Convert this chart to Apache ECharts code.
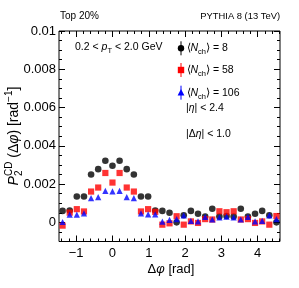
<!DOCTYPE html>
<html><head><meta charset="utf-8">
<script src="https://cdn.jsdelivr.net/npm/echarts@6/dist/echarts.min.js"></script>
<style>html,body{margin:0;padding:0;background:#fff}#c{width:299px;height:288px}</style>
</head><body><div id="c"></div>
<script>
// ---- data ----
const dphi = [-1.374,-1.178,-0.982,-0.785,-0.589,-0.393,-0.196,0,0.196,0.393,0.589,0.785,0.982,1.178,1.374,1.571,1.767,1.963,2.160,2.356,2.553,2.749,2.945,3.142,3.338,3.534,3.731,3.927,4.123,4.320,4.516];
const nch8 = [0.00060,0.00062,0.00135,0.00135,0.00250,0.00278,0.00322,0.00296,0.00322,0.00278,0.00250,0.00135,0.00135,0.00062,0.00060,0.00050,0.00000,0.00037,0.00060,0.00045,0.00030,0.00071,0.00030,0.00033,0.00030,0.00071,0.00030,0.00045,0.00060,0.00037,0.00000];
const nch58 = [-0.00017,0.00051,0.00069,0.00057,0.00161,0.00182,0.00258,0.00208,0.00258,0.00182,0.00161,0.00057,0.00069,0.00055,-0.00012,-0.00005,0.00032,-0.00012,0.00005,-0.00003,0.00017,0.00015,0.00058,0.00053,0.00058,0.00015,0.00017,-0.00003,0.00005,-0.00012,0.00033];
const nch106 = [0.00002,0.00040,0.00040,0.00047,0.00127,0.00132,0.00165,0.00162,0.00165,0.00132,0.00127,0.00047,0.00042,0.00042,0.00004,0.00013,0.00017,0.00037,0.00008,0.00005,0.00029,0.00015,0.00026,0.00030,0.00026,0.00015,0.00029,0.00005,0.00008,0.00037,0.00017];
const legendNch = ['8','58','106'];
const xTickValues = [-1,0,1,2,3,4];
const xTickLabels = ['\u22121','0','1','2','3','4'];
const yTickValues = [0,0.002,0.004,0.006,0.008,0.01];
const yTickLabels = ['0','0.002','0.004','0.006','0.008','0.01'];
const xMin = -1.4726, xMax = 4.6142, yMin = -0.001, yMax = 0.01;

// ---- helpers ----
const FF = '"Liberation Sans", Arial, sans-serif';
const mctx = document.createElement('canvas').getContext('2d');
function tw(t, s, it){ mctx.font = (it?'italic ':'') + s + 'px ' + FF; return mctx.measureText(t).width; }
function run(pieces, x0, base){
  let x = x0; const els = [];
  pieces.forEach(p => {
    els.push({type:'text', x: x, y: base + (p.dy||0) - 0.35*p.s,
      style:{text:p.t, fontSize:p.s, fontStyle:p.i?'italic':'normal', fontFamily:FF, fill:'#000',
        align:'left', verticalAlign:'middle', textAlign:'left', textVerticalAlign:'middle'}});
    if(!p.na) x += tw(p.t, p.s, p.i);
  });
  return {els, width: x - x0};
}
function runWidth(pieces){ let w=0; pieces.forEach(p=>{ if(!p.na) w+=tw(p.t,p.s,p.i); }); return w; }

const xMinor = []; for (let v = -1.4; v < xMax; v += 0.2) xMinor.push(Math.round(v*10)/10);
const yMinor = []; for (let v = -0.001; v <= yMax + 1e-9; v += 0.0005) yMinor.push(Math.round(v*1e5)/1e5);

function xAx(pos, ticks, len, labels){
  return {type:'value', position:pos, min:xMin, max:xMax, gridIndex:0,
    axisLine:{show:false, onZero:false}, splitLine:{show:false},
    axisTick:{show:true, inside:true, length:len, customValues:ticks, lineStyle:{color:'#000', width:1}},
    axisLabel: labels ? {show:true, customValues:xTickValues, margin:5, color:'#000', fontSize:13, fontFamily:FF,
      formatter: v => { const i = xTickValues.findIndex(t => Math.abs(t-v)<1e-6); return i>=0 ? xTickLabels[i] : ''; }} : {show:false}};
}
function yAx(pos, ticks, len, labels){
  return {type:'value', position:pos, min:yMin, max:yMax, gridIndex:0,
    axisLine:{show:false, onZero:false}, splitLine:{show:false},
    axisTick:{show:true, inside:true, length:len, customValues:ticks, lineStyle:{color:'#000', width:1}},
    axisLabel: labels ? {show:true, customValues:yTickValues, margin:3, color:'#000', fontSize:13, fontFamily:FF,
      formatter: v => { const i = yTickValues.findIndex(t => Math.abs(t-v)<1e-9); return i>=0 ? yTickLabels[i] : ''; }} : {show:false}};
}

function pts(arr){ return dphi.map((x,i)=>[x, arr[i]]); }

// ---- graphics (texts, legend, axis titles) ----
const g = [];
const push = r => r.els.forEach(e => g.push(e));
push(run([{t:'Top 20%', s:10}], 60, 19.5));
{ const p=[{t:'PYTHIA 8 (13 TeV)', s:9.4}]; push(run(p, 280 - runWidth(p), 19.5)); }
push(run([{t:'0.2 < ', s:10.5},{t:'p', s:10.5, i:true},{t:'T', s:7.5, dy:3},{t:' < 2.0 GeV', s:10.5}], 75, 51));
const legRows = [{y:48.3, c:'#000', sym:'circle'},{y:70,c:'#ff0000',sym:'rect'},{y:92.7,c:'#0000ff',sym:'triangle'}];
legRows.forEach((r,k) => {
  g.push({type:'line', shape:{x1:181, y1:r.y-7, x2:181, y2:r.y+7}, style:{stroke:r.c, lineWidth:1}});
  if (r.sym==='circle') g.push({type:'circle', shape:{cx:181, cy:r.y, r:3.2}, style:{fill:r.c}});
  else if (r.sym==='rect') g.push({type:'rect', shape:{x:177.8, y:r.y-3.2, width:6.4, height:6.4}, style:{fill:r.c}});
  else g.push({type:'polygon', shape:{points:[[181,r.y-3.8],[184.4,r.y+2.8],[177.6,r.y+2.8]]}, style:{fill:r.c}});
  push(run([{t:'\u27E8', s:10.5},{t:'N', s:10.5, i:true},{t:'ch', s:7.5, dy:3},{t:'\u27E9 = ' + legendNch[k], s:10.5}], 186.5, r.y+3.7));
});
push(run([{t:'|', s:10.5},{t:'\u03B7', s:10.5, i:true},{t:'| < 2.4', s:10.5}], 186, 112));
push(run([{t:'|\u0394', s:10.5},{t:'\u03B7', s:10.5, i:true},{t:'| < 1.0', s:10.5}], 186, 138));
// x title
{ const p=[{t:'\u0394', s:13},{t:'\u03C6', s:13, i:true},{t:' [rad]', s:13}]; push(run(p, 171 - runWidth(p)/2, 274)); }
// y title (rotated)
{
  const p=[{t:'P', s:14, i:true},{t:'2', s:10, dy:3.5, na:true},{t:'CD', s:10, dy:-6.5},{t:' (\u0394', s:14},{t:'\u03C6', s:14, i:true},{t:') [rad', s:14},{t:'\u22121', s:10, dy:-6.5},{t:']', s:14}];
  const L = runWidth(p);
  g.push({type:'group', x:19, y:136 + L/2, rotation:Math.PI/2, children: run(p, 0, 0).els});
}

const chart = echarts.init(document.getElementById('c'), null, {renderer:'canvas'});
chart.setOption({
  animation:false,
  backgroundColor:'#fff',
  grid:{left:59, top:31, width:221, height:210.5, show:true, borderColor:'#000', borderWidth:1, backgroundColor:'transparent'},
  xAxis:[xAx('bottom', xTickValues, 6, true), xAx('bottom', xMinor, 3, false), xAx('top', xTickValues, 6, false), xAx('top', xMinor, 3, false)],
  yAxis:[yAx('left', yTickValues, 6, true), yAx('left', yMinor, 3, false), yAx('right', yTickValues, 6, false), yAx('right', yMinor, 3, false)],
  series:[
    {type:'scatter', data:pts(nch8), symbol:'circle', symbolSize:6.6, itemStyle:{color:'#000'}, xAxisIndex:0, yAxisIndex:0, z:2},
    {type:'scatter', data:pts(nch58), symbol:'rect', symbolSize:6.2, itemStyle:{color:'#ff0000'}, xAxisIndex:0, yAxisIndex:0, z:3},
    {type:'scatter', data:pts(nch106), symbol:'triangle', symbolSize:6.2, itemStyle:{color:'#0000ff'}, xAxisIndex:0, yAxisIndex:0, z:4}
  ],
  graphic: g
});
</script></body></html>
